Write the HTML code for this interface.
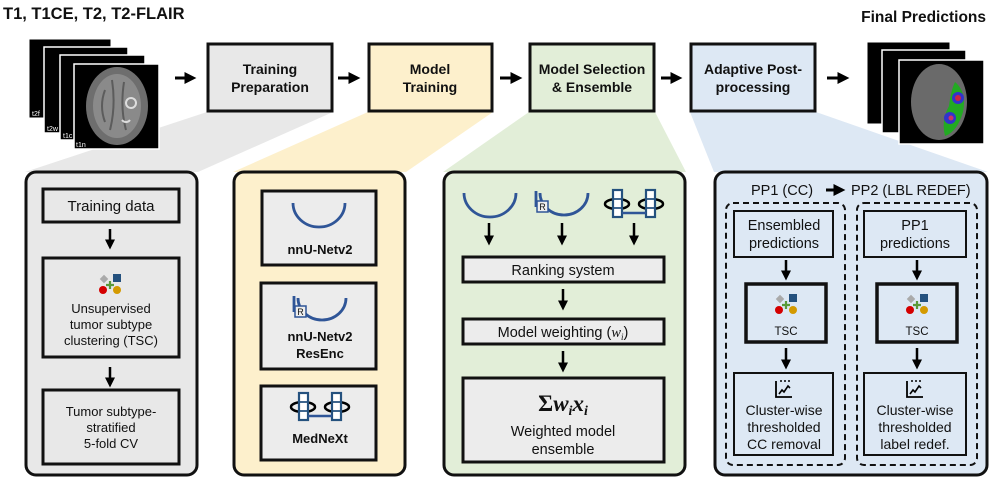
<!DOCTYPE html>
<html><head><meta charset="utf-8"><style>
body{margin:0;background:#fff}
svg{display:block}
text{font-family:"Liberation Sans",sans-serif;fill:#111}
.t{font-size:14px;font-weight:bold;text-anchor:middle}
.s{font-size:13px;text-anchor:middle}
.b{font-size:13px;font-weight:bold;text-anchor:middle}
</style></head><body>
<svg width="996" height="482" viewBox="0 0 996 482" xmlns="http://www.w3.org/2000/svg">
<defs>
<marker id="ah" markerWidth="4" markerHeight="4" refX="2.2" refY="2" orient="auto" markerUnits="strokeWidth"><path d="M0,0 L4,2 L0,4 z" fill="#000"/></marker>
<g id="tsc"><rect x="-9" y="-9" width="6" height="6" transform="rotate(45 -6 -6)" fill="#aaa"/><rect x="3" y="-11" width="8" height="8" fill="#24517e"/><path d="M-4,0 h8 M0,-4 v8" stroke="#5a9a3a" stroke-width="2.2"/><circle cx="-7" cy="5" r="4" fill="#d40000"/><circle cx="7" cy="5" r="4" fill="#d49a00"/></g>
<path id="u" d="M-26,-14 A26,24 0 0 0 26,-14" fill="none" stroke="#2f5597" stroke-width="2.8"/>
<g id="ur"><path d="M-22,-14 A24,22 0 0 0 26,-14" fill="none" stroke="#2f5597" stroke-width="2.8"/><path d="M-26,-16 v16" stroke="#2f5597" stroke-width="2.8"/><rect x="-25" y="-6" width="11" height="11" fill="#eee" stroke="#2f5597" stroke-width="1.5"/><text x="-19.5" y="3" style="font-size:9px;text-anchor:middle">R</text></g>
<g id="mn"><ellipse cx="-17" cy="1" rx="12" ry="5" fill="none" stroke="#000" stroke-width="2.5"/><ellipse cx="17" cy="1" rx="12" ry="5" fill="none" stroke="#000" stroke-width="2.5"/><rect x="-21" y="-13" width="9" height="27" fill="#fff" stroke="#24517e" stroke-width="2.2"/><rect x="12" y="-13" width="9" height="27" fill="#fff" stroke="#24517e" stroke-width="2.2"/><path d="M-21,-4h9M-21,5h9M12,-4h9M12,5h9" stroke="#24517e" stroke-width="1.8"/><path d="M-12,10 h24" stroke="#2f5597" stroke-width="2.4"/></g>
<g id="ch"><path d="M-8,-9 v16 h16" fill="none" stroke="#000" stroke-width="1.8"/><path d="M-5,4 l3,-4 l2,2 l4,-6 l2,2" fill="none" stroke="#000" stroke-width="1.6"/><path d="M-4,-9h2M0,-9h2M4,-9h2" stroke="#000" stroke-width="1.4"/></g>
</defs>

<polygon points="207,112 333,112 198,172 25,172" fill="#e8e8e8"/>
<polygon points="368,112 493,112 406,172 233,172" fill="#fdf0cc"/>
<polygon points="529,112 655,112 686,172 443,172" fill="#e2eed8"/>
<polygon points="690,112 816,112 988,172 714,172" fill="#dde8f4"/>

<text x="3" y="19" style="font-size:16.5px;font-weight:bold">T1, T1CE, T2, T2-FLAIR</text>
<text x="986" y="22" style="font-size:15.5px;font-weight:bold;text-anchor:end">Final Predictions</text>

<rect x="29" y="39" width="82" height="79" fill="#000" stroke="#fff"/>
<rect x="44" y="47" width="84" height="86" fill="#000" stroke="#fff" stroke-width="1.5"/>
<rect x="60" y="55" width="85" height="85" fill="#000" stroke="#fff" stroke-width="1.5"/>
<rect x="74" y="64" width="85" height="85" fill="#000" stroke="#fff" stroke-width="1.5"/>
<ellipse cx="117" cy="106" rx="31" ry="39" fill="#6e6e6e"/>
<ellipse cx="117" cy="106" rx="24" ry="32" fill="#8a8a8a"/>
<path d="M105,90 q-6,16 0,32 M112,80 q4,26 -2,50 M124,82 q-4,26 2,48" stroke="#5c5c5c" stroke-width="2" fill="none"/>
<circle cx="131" cy="103" r="5" fill="none" stroke="#ddd" stroke-width="2"/>
<path d="M122,120 a5,5 0 0 0 8,0" fill="none" stroke="#ddd" stroke-width="2"/>
<text x="32" y="116" style="font-size:7px;fill:#fff">t2f</text>
<text x="47" y="131" style="font-size:7px;fill:#fff">t2w</text>
<text x="63" y="138" style="font-size:7px;fill:#fff">t1c</text>
<text x="76" y="147" style="font-size:7px;fill:#fff">t1n</text>

<rect x="867" y="42" width="83" height="82" fill="#000" stroke="#fff"/>
<rect x="882" y="50" width="84" height="83" fill="#000" stroke="#fff" stroke-width="1.5"/>
<rect x="899" y="60" width="85" height="84" fill="#000" stroke="#fff" stroke-width="1.5"/>
<ellipse cx="939" cy="102" rx="28" ry="38" fill="#6a6a6a"/>
<path d="M955,82 q12,10 8,30 q-6,20 -18,24 q-4,-16 4,-30 q2,-16 6,-24z" fill="#22aa22"/>
<circle cx="958" cy="98" r="6" fill="#3333cc"/><circle cx="958" cy="98" r="3" fill="#cc2244"/>
<circle cx="950" cy="118" r="6" fill="#3333cc"/><circle cx="951" cy="118" r="2.5" fill="#cc3366"/>

<g stroke="#111" stroke-width="3">
<rect x="208" y="44" width="124" height="67" fill="#e8e8e8"/>
<rect x="369" y="44" width="123" height="67" fill="#fdf0cc"/>
<rect x="530" y="44" width="124" height="67" fill="#e2eed8"/>
<rect x="691" y="44" width="124" height="67" fill="#dde8f4"/>
</g>
<text class="t" x="270" y="74">Training</text><text class="t" x="270" y="92">Preparation</text>
<text class="t" x="430" y="74">Model</text><text class="t" x="430" y="92">Training</text>
<text class="t" x="592" y="74">Model Selection</text><text class="t" x="592" y="92">&amp; Ensemble</text>
<text class="t" x="753" y="74">Adaptive Post-</text><text class="t" x="753" y="92">processing</text>

<g stroke="#000" stroke-width="3" marker-end="url(#ah)">
<path d="M175,78 h16"/><path d="M338,78 h17"/><path d="M500,78 h17"/><path d="M661,78 h16"/><path d="M827,78 h17"/>
</g>

<g stroke="#111" stroke-width="3">
<rect x="26" y="172" width="171" height="303" rx="10" fill="#e8e8e8"/>
<rect x="234" y="172" width="171" height="303" rx="10" fill="#fdf0cc"/>
<rect x="444" y="172" width="241" height="303" rx="10" fill="#e2eed8"/>
<rect x="715" y="172" width="272" height="303" rx="10" fill="#dde8f4"/>
</g>

<g stroke="#111" stroke-width="3" fill="#e8e8e8">
<rect x="43" y="189" width="136" height="33"/>
<rect x="43" y="258" width="136" height="99"/>
<rect x="43" y="390" width="136" height="74"/>
</g>
<text class="t" x="111" y="211" style="font-weight:normal;font-size:15px">Training data</text>
<use href="#tsc" x="110" y="285"/>
<text class="s" x="111" y="313">Unsupervised</text>
<text class="s" x="111" y="329">tumor subtype</text>
<text class="s" x="111" y="345">clustering (TSC)</text>
<text class="s" x="111" y="416">Tumor subtype-</text>
<text class="s" x="111" y="432">stratified</text>
<text class="s" x="111" y="448">5-fold CV</text>
<g stroke="#000" stroke-width="2.5" marker-end="url(#ah)">
<path d="M110,229 v16"/><path d="M110,367 v16"/>
</g>

<g stroke="#111" stroke-width="3" fill="#ececec">
<rect x="262" y="191" width="114" height="74"/>
<rect x="261" y="283" width="115" height="86"/>
<rect x="261" y="386" width="115" height="74"/>
</g>
<use href="#u" x="319" y="217"/>
<text class="b" x="320" y="254">nnU-Netv2</text>
<use href="#ur" x="320" y="312"/>
<text class="b" x="320" y="341">nnU-Netv2</text>
<text class="b" x="320" y="358">ResEnc</text>
<use href="#mn" x="320" y="406"/>
<text class="b" x="320" y="443">MedNeXt</text>

<use href="#u" x="490" y="207"/>
<use href="#ur" x="562" y="207"/>
<use href="#mn" x="634" y="203"/>
<g stroke="#000" stroke-width="2.5" marker-end="url(#ah)">
<path d="M489,223 v18"/><path d="M562,223 v18"/><path d="M634,223 v18"/>
<path d="M563,289 v17"/><path d="M563,351 v17"/>
</g>
<g stroke="#111" stroke-width="3" fill="#ececec">
<rect x="463" y="257" width="201" height="25"/>
<rect x="463" y="319" width="201" height="25"/>
<rect x="463" y="378" width="201" height="84"/>
</g>
<text class="s" x="563" y="275" style="font-size:14.5px">Ranking system</text>
<text class="s" x="563" y="337" style="font-size:14.5px">Model weighting (<tspan font-family="Liberation Serif" font-style="italic">w<tspan font-size="9" dy="3">i</tspan></tspan><tspan dy="-3">)</tspan></text>
<text x="563" y="411" style="font-family:'Liberation Serif',serif;font-size:23px;font-weight:bold;text-anchor:middle">Σ<tspan font-style="italic">w<tspan font-size="14" dy="4">i</tspan><tspan dy="-4">x</tspan><tspan font-size="14" dy="4">i</tspan></tspan></text>
<text class="s" x="563" y="436" style="font-size:14.5px">Weighted model</text>
<text class="s" x="563" y="454" style="font-size:14.5px">ensemble</text>

<text x="751" y="195" style="font-size:14.5px">PP1 (CC)</text>
<path d="M826,190 h14" stroke="#000" stroke-width="3" marker-end="url(#ah)"/>
<text x="851" y="195" style="font-size:14.5px">PP2 (LBL REDEF)</text>
<g fill="none" stroke="#111" stroke-width="2" stroke-dasharray="6,4">
<rect x="726" y="203" width="119" height="262" rx="7"/>
<rect x="857" y="203" width="120" height="262" rx="7"/>
</g>
<g stroke="#111" stroke-width="2" fill="#dde8f4">
<rect x="734" y="211" width="99" height="46"/>
<rect x="864" y="211" width="102" height="46"/>
<rect x="734" y="373" width="99" height="82"/>
<rect x="864" y="373" width="102" height="82"/>
</g>
<g stroke="#111" stroke-width="3.5" fill="#dde8f4">
<rect x="746" y="284" width="80" height="58"/>
<rect x="877" y="284" width="80" height="58"/>
</g>
<text class="s" x="784" y="230" style="font-size:14.5px">Ensembled</text>
<text class="s" x="784" y="248" style="font-size:14.5px">predictions</text>
<text class="s" x="915" y="230" style="font-size:14.5px">PP1</text>
<text class="s" x="915" y="248" style="font-size:14.5px">predictions</text>
<use href="#tsc" x="786" y="305"/><use href="#tsc" x="917" y="305"/>
<text class="s" x="786" y="335" style="font-size:11.5px">TSC</text>
<text class="s" x="917" y="335" style="font-size:11.5px">TSC</text>
<g stroke="#000" stroke-width="2.5" marker-end="url(#ah)">
<path d="M786,260 v16"/><path d="M917,260 v16"/><path d="M786,348 v17"/><path d="M917,348 v17"/>
</g>
<use href="#ch" x="784" y="390"/><use href="#ch" x="915" y="390"/>
<text class="s" x="784" y="415" style="font-size:14px">Cluster-wise</text>
<text class="s" x="784" y="432" style="font-size:14px">thresholded</text>
<text class="s" x="784" y="449" style="font-size:14px">CC removal</text>
<text class="s" x="915" y="415" style="font-size:14px">Cluster-wise</text>
<text class="s" x="915" y="432" style="font-size:14px">thresholded</text>
<text class="s" x="915" y="449" style="font-size:14px">label redef.</text>
</svg>
</body></html>
